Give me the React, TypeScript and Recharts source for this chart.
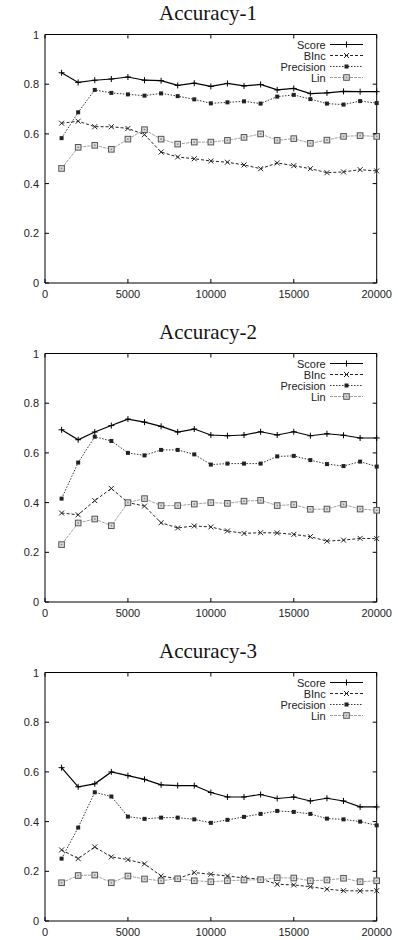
import React from "react";
import { LineChart, Line, XAxis, YAxis, ReferenceArea, Legend } from "recharts";

// sample sizes on the x axis
const SIZES = [
  1000, 2000, 3000, 4000, 5000, 6000, 7000, 8000, 9000, 10000,
  11000, 12000, 13000, 14000, 15000, 16000, 17000, 18000, 19000, 20000,
];

const X_TICKS = [0, 5000, 10000, 15000, 20000];
const Y_TICKS = [0, 0.2, 0.4, 0.6, 0.8, 1];
const TITLES = ["Accuracy-1", "Accuracy-2", "Accuracy-3"];

// Accuracy-1
const acc1Score = [0.846, 0.807, 0.816, 0.821, 0.829, 0.816, 0.814, 0.795, 0.804, 0.791, 0.803, 0.793, 0.799, 0.777, 0.783, 0.762, 0.765, 0.771, 0.77, 0.77];
const acc1BInc = [0.643, 0.651, 0.629, 0.629, 0.622, 0.597, 0.527, 0.507, 0.5, 0.491, 0.486, 0.475, 0.46, 0.483, 0.472, 0.46, 0.444, 0.447, 0.456, 0.451];
const acc1Precision = [0.583, 0.687, 0.777, 0.765, 0.759, 0.754, 0.763, 0.752, 0.739, 0.723, 0.727, 0.731, 0.722, 0.75, 0.757, 0.74, 0.722, 0.718, 0.732, 0.724];
const acc1Lin = [0.461, 0.546, 0.554, 0.538, 0.579, 0.617, 0.579, 0.559, 0.567, 0.567, 0.574, 0.586, 0.6, 0.574, 0.581, 0.562, 0.575, 0.59, 0.593, 0.59];

// Accuracy-2
const acc2Score = [0.693, 0.653, 0.684, 0.71, 0.736, 0.724, 0.707, 0.684, 0.696, 0.672, 0.669, 0.672, 0.685, 0.672, 0.685, 0.669, 0.677, 0.671, 0.66, 0.66];
const acc2BInc = [0.358, 0.351, 0.408, 0.457, 0.4, 0.386, 0.319, 0.298, 0.306, 0.302, 0.286, 0.276, 0.279, 0.278, 0.272, 0.263, 0.245, 0.249, 0.256, 0.255];
const acc2Precision = [0.416, 0.561, 0.665, 0.648, 0.6, 0.59, 0.612, 0.612, 0.594, 0.553, 0.557, 0.557, 0.557, 0.586, 0.588, 0.571, 0.555, 0.547, 0.565, 0.545];
const acc2Lin = [0.231, 0.318, 0.334, 0.307, 0.4, 0.416, 0.388, 0.388, 0.394, 0.4, 0.397, 0.406, 0.409, 0.388, 0.392, 0.373, 0.374, 0.393, 0.374, 0.369];

// Accuracy-3
const acc3Score = [0.617, 0.54, 0.552, 0.6, 0.585, 0.57, 0.548, 0.545, 0.545, 0.517, 0.499, 0.499, 0.509, 0.493, 0.499, 0.483, 0.494, 0.483, 0.459, 0.459];
const acc3BInc = [0.286, 0.251, 0.298, 0.258, 0.247, 0.23, 0.181, 0.17, 0.195, 0.188, 0.181, 0.173, 0.169, 0.148, 0.145, 0.138, 0.128, 0.122, 0.121, 0.122];
const acc3Precision = [0.251, 0.376, 0.518, 0.501, 0.42, 0.411, 0.416, 0.416, 0.409, 0.395, 0.407, 0.419, 0.431, 0.443, 0.439, 0.431, 0.412, 0.409, 0.4, 0.385];
const acc3Lin = [0.154, 0.183, 0.185, 0.154, 0.181, 0.169, 0.162, 0.17, 0.162, 0.158, 0.162, 0.165, 0.166, 0.174, 0.173, 0.162, 0.165, 0.172, 0.158, 0.162];

const PANELS = [
  { score: acc1Score, binc: acc1BInc, precision: acc1Precision, lin: acc1Lin },
  { score: acc2Score, binc: acc2BInc, precision: acc2Precision, lin: acc2Lin },
  { score: acc3Score, binc: acc3BInc, precision: acc3Precision, lin: acc3Lin },
];

// layout
const W = 398;
const H = 302;
const STEP = 319;
const TOP = 34.5;
const RIGHT = 21.3;
const Y_AXIS_W = 45;
const X_AXIS_H = 19;
const PLOT_LEFT = Y_AXIS_W;
const PLOT_RIGHT = W - RIGHT;
const PLOT_TOP = TOP;
const PLOT_BOTTOM = H - X_AXIS_H;
const TICK = 4;
const FONT = "'Liberation Sans', Arial, sans-serif";

type Kind = "plus" | "cross" | "fill" | "box";

const SERIES: { key: string; name: string; stroke: string; width: number; dash?: string; marker: Kind }[] = [
  { key: "score", name: "Score", stroke: "#000", width: 1.2, marker: "plus" },
  { key: "binc", name: "BInc", stroke: "#222", width: 1, dash: "3 2", marker: "cross" },
  { key: "precision", name: "Precision", stroke: "#333", width: 1, dash: "1.5 1.5", marker: "fill" },
  { key: "lin", name: "Lin", stroke: "#a0a0a0", width: 1, dash: "3 1", marker: "box" },
];

function Marker({ kind, cx, cy }: { kind: Kind; cx: number; cy: number }) {
  if (cx == null || cy == null) return null;
  if (kind === "plus") {
    return (
      <g stroke="#000" strokeWidth={1}>
        <line x1={cx - 3} x2={cx + 3} y1={cy} y2={cy} />
        <line x1={cx} x2={cx} y1={cy - 3} y2={cy + 3} />
      </g>
    );
  }
  if (kind === "cross") {
    return (
      <g stroke="#222" strokeWidth={1}>
        <line x1={cx - 2.5} x2={cx + 2.5} y1={cy - 2.5} y2={cy + 2.5} />
        <line x1={cx - 2.5} x2={cx + 2.5} y1={cy + 2.5} y2={cy - 2.5} />
      </g>
    );
  }
  if (kind === "fill") {
    return <rect x={cx - 2} y={cy - 2} width={4} height={4} fill="#222" />;
  }
  return (
    <g>
      <rect x={cx - 2.8} y={cy - 2.8} width={5.6} height={5.6} fill="#ddd" stroke="#555" strokeWidth={1} />
      <rect x={cx - 0.8} y={cy - 0.8} width={1.6} height={1.6} fill="#888" />
    </g>
  );
}

function XTick(props: any) {
  const { x, payload } = props;
  return (
    <g>
      <line x1={x} x2={x} y1={PLOT_BOTTOM} y2={PLOT_BOTTOM - TICK} stroke="#000" />
      <line x1={x} x2={x} y1={PLOT_TOP} y2={PLOT_TOP + TICK} stroke="#000" />
      <text x={x} y={PLOT_BOTTOM + 11} textAnchor="middle" dominantBaseline="central" fontSize={11} fontFamily={FONT} fill="#222">
        {payload.value}
      </text>
    </g>
  );
}

function YTick(props: any) {
  const { y, payload } = props;
  return (
    <g>
      <line x1={PLOT_LEFT} x2={PLOT_LEFT + TICK} y1={y} y2={y} stroke="#000" />
      <line x1={PLOT_RIGHT - TICK} x2={PLOT_RIGHT} y1={y} y2={y} stroke="#000" />
      <text x={PLOT_LEFT - 6} y={y} textAnchor="end" dominantBaseline="central" fontSize={11} fontFamily={FONT} fill="#222">
        {String(payload.value)}
      </text>
    </g>
  );
}

function LegendBox() {
  return (
    <svg width={140} height={46} style={{ display: "block" }}>
      {SERIES.map((s, i) => {
        const y = 6.5 + i * 11;
        return (
          <g key={s.key}>
            <text x={100.7} y={y} textAnchor="end" dominantBaseline="central" fontSize={11} fontFamily={FONT} fill="#222">
              {s.name}
            </text>
            <line x1={105} x2={138} y1={y} y2={y} stroke={s.stroke} strokeWidth={s.width} strokeDasharray={s.dash} />
            <Marker kind={s.marker} cx={121.5} cy={y} />
          </g>
        );
      })}
    </svg>
  );
}

function Panel({ index }: { index: number }) {
  const panel = PANELS[index] as Record<string, number[]>;
  const data = SIZES.map((size, i) => ({
    size,
    score: panel.score[i],
    binc: panel.binc[i],
    precision: panel.precision[i],
    lin: panel.lin[i],
  }));

  return (
    <div style={{ position: "absolute", top: index * STEP, left: 0, width: W, height: H }}>
      <div
        style={{
          position: "absolute",
          top: 3.4,
          left: 0,
          width: 416,
          textAlign: "center",
          fontFamily: "'Liberation Serif', 'Times New Roman', serif",
          fontSize: 21,
          lineHeight: "21px",
          color: "#111",
        }}
      >
        {TITLES[index]}
      </div>
      <LineChart width={W} height={H} data={data} margin={{ top: TOP, right: RIGHT, bottom: 0, left: 0 }}>
        <XAxis
          dataKey="size"
          type="number"
          domain={[0, 20000]}
          ticks={X_TICKS}
          height={X_AXIS_H}
          axisLine={false}
          tickLine={false}
          tickSize={0}
          tick={XTick}
          interval={0}
        />
        <YAxis
          type="number"
          domain={[0, 1]}
          ticks={Y_TICKS}
          width={Y_AXIS_W}
          axisLine={false}
          tickLine={false}
          tickSize={0}
          tick={YTick}
          interval={0}
        />
        <ReferenceArea x1={0} x2={20000} y1={0} y2={1} fill="none" stroke="#000" strokeWidth={1} fillOpacity={0} />
        <Legend
          layout="horizontal"
          verticalAlign="middle"
          align="center"
          content={() => <LegendBox />}
          wrapperStyle={{ top: 38, left: 225, width: 140, height: 46 }}
        />
        {SERIES.map((s) => (
          <Line
            key={s.key}
            dataKey={s.key}
            name={s.name}
            stroke={s.stroke}
            strokeWidth={s.width}
            strokeDasharray={s.dash}
            isAnimationActive={false}
            dot={(p: any) => <Marker key={`${s.key}-${p.index}`} kind={s.marker} cx={p.cx} cy={p.cy} />}
            activeDot={false}
          />
        ))}
      </LineChart>
    </div>
  );
}

export default function App() {
  return (
    <div style={{ position: "absolute", top: 0, left: 0, width: W, height: 940, overflow: "hidden", background: "#fff" }}>
      {TITLES.map((t, i) => (
        <Panel key={t} index={i} />
      ))}
    </div>
  );
}
